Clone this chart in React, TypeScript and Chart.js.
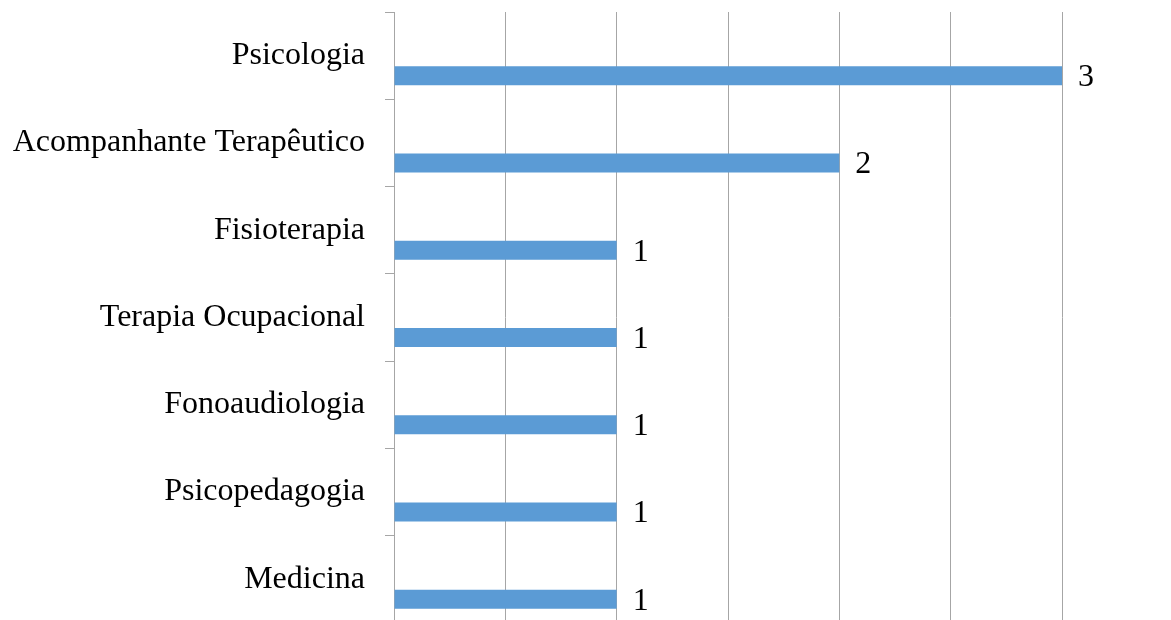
import React, { useEffect, useRef } from "react";
import { Chart, registerables } from "chart.js";

Chart.register(...registerables);

const categories = [
  "Psicologia",
  "Acompanhante Terapêutico",
  "Fisioterapia",
  "Terapia Ocupacional",
  "Fonoaudiologia",
  "Psicopedagogia",
  "Medicina",
];
const values = [3, 2, 1, 1, 1, 1, 1];
const emptySeries = [null, null, null, null, null, null, null];
const xMin = 0;
const xMax = 3;
const xStep = 0.5;

const FONT = '"Liberation Serif", "Times New Roman", serif';
const GRID = "#a6a6a6";

const valueLabels = {
  id: "valueLabels",
  afterDatasetsDraw(chart: any) {
    const ctx = chart.ctx;
    const meta = chart.getDatasetMeta(1);
    ctx.save();
    ctx.font = `32px ${FONT}`;
    ctx.fillStyle = "#000";
    ctx.textAlign = "left";
    ctx.textBaseline = "middle";
    meta.data.forEach((bar: any, i: number) => {
      ctx.fillText(String(values[i]), bar.x + 16, bar.y + 2);
    });
    ctx.restore();
  },
};

export default function App() {
  const ref = useRef<HTMLCanvasElement | null>(null);

  useEffect(() => {
    if (!ref.current) return;
    const chart = new Chart(ref.current, {
      type: "bar",
      data: {
        labels: categories,
        datasets: [
          {
            data: emptySeries as any,
            backgroundColor: "#a5a5a5",
            categoryPercentage: 0.916,
            barPercentage: 0.475,
          },
          {
            data: values,
            backgroundColor: "#5b9bd5",
            categoryPercentage: 0.916,
            barPercentage: 0.475,
          },
        ],
      },
      options: {
        indexAxis: "y",
        animation: false,
        responsive: true,
        maintainAspectRatio: false,
        layout: { padding: { top: 12, right: 109, bottom: 17, left: 0 } },
        plugins: {
          legend: { display: false },
          tooltip: { enabled: false },
        },
        scales: {
          x: {
            min: xMin,
            max: xMax,
            ticks: { display: false, stepSize: xStep },
            grid: { color: GRID, lineWidth: 1, drawTicks: false },
            border: { display: false },
            afterFit: (s: any) => {
              s.height = 0;
              s.paddingLeft = 0;
              s.paddingRight = 0;
            },
          },
          y: {
            ticks: {
              color: "#000",
              padding: 20,
              font: { family: FONT, size: 32 },
            },
            grid: {
              offset: true,
              drawOnChartArea: false,
              drawTicks: true,
              tickLength: 9,
              color: GRID,
            },
            border: { display: true, color: GRID },
            afterFit: (s: any) => {
              s.width = 394;
              s.paddingTop = 0;
              s.paddingBottom = 0;
            },
          },
        },
      },
      plugins: [valueLabels],
    });
    return () => chart.destroy();
  }, []);

  return (
    <div
      style={{
        position: "absolute",
        left: 0,
        top: 0,
        width: 1171,
        height: 640,
        background: "#fff",
      }}
    >
      <canvas ref={ref} />
    </div>
  );
}
